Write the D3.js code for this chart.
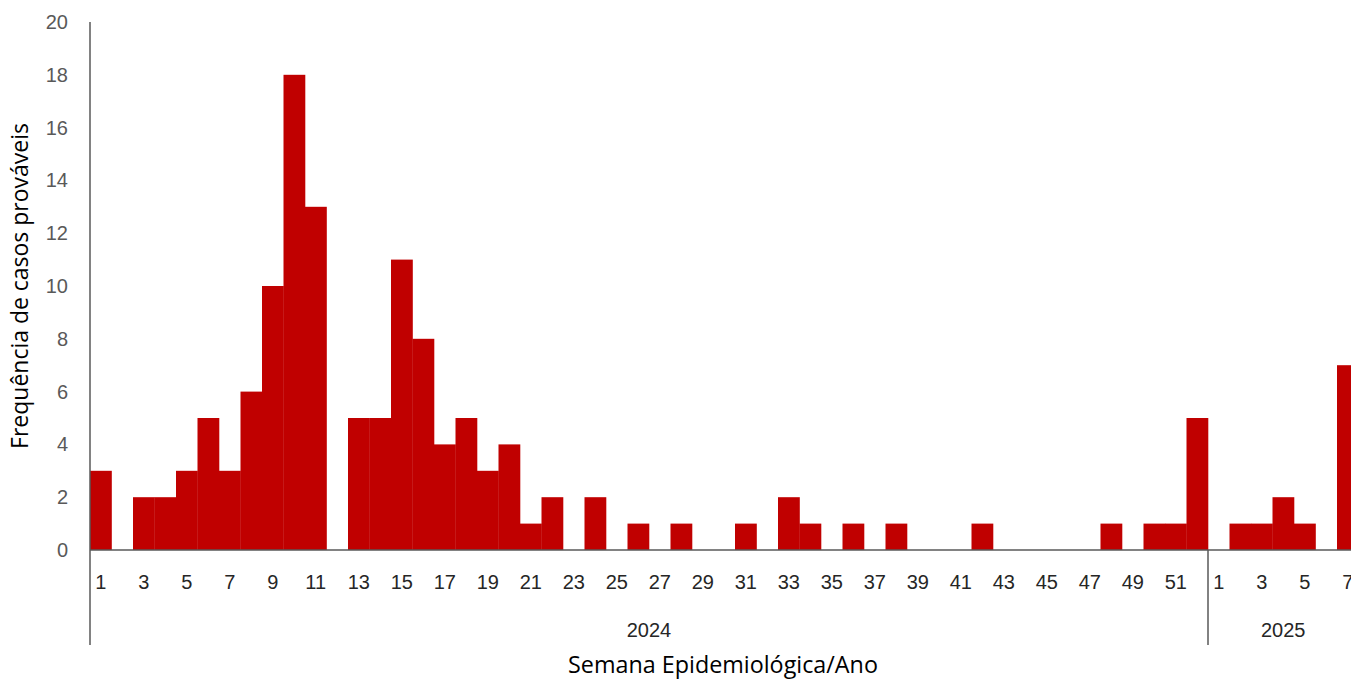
<!DOCTYPE html>
<html><head><meta charset="utf-8">
<script src="https://cdn.jsdelivr.net/npm/d3@7"></script>
<style>body{margin:0;background:#fff;overflow:hidden}svg{display:block}</style>
</head><body><svg id="c" width="1351" height="680"></svg>
<script>
const years = ["2024", "2025"];
const weeks2024 = d3.range(1, 53);
const weeks2025 = d3.range(1, 8);
const values2024 = [3,0,2,2,3,5,3,6,10,18,13,0,5,5,11,8,4,5,3,4,1,2,0,2,0,1,0,1,0,0,1,0,2,1,0,1,0,1,0,0,0,1,0,0,0,0,0,1,0,1,1,5];
const values2025 = [0,1,1,2,1,0,7];
const yTicks = [0,2,4,6,8,10,12,14,16,18,20];
const yTitle = "Frequência de casos prováveis";
const xTitle = "Semana Epidemiológica/Ano";

const data = [];
weeks2024.forEach((w,i)=>data.push({year:"2024", week:w, value:values2024[i], key:"2024-"+w}));
weeks2025.forEach((w,i)=>data.push({year:"2025", week:w, value:values2025[i], key:"2025-"+w}));

const svg = d3.select("#c");
const left = 90, bw = 21.5;
const x = d3.scaleBand().domain(data.map(d=>d.key)).range([left, left + data.length*bw]).padding(0);
const y = d3.scaleLinear().domain([0,20]).range([550,22]);
const font = "'Liberation Sans', Arial, sans-serif";
const tfont = "'Open Sans', 'Noto Sans', sans-serif";

// bars
svg.append("g").selectAll("rect").data(data).join("rect")
  .attr("x", d=>x(d.key)).attr("width", x.bandwidth()+0.3)
  .attr("y", d=>y(d.value)).attr("height", d=>y(0)-y(d.value))
  .attr("fill", "#C00000");

// y axis
const ya = svg.append("g").attr("transform", `translate(${left},0)`)
  .call(d3.axisLeft(y).tickValues(yTicks).tickSize(0).tickPadding(22));
ya.select(".domain").remove();
ya.selectAll("text").attr("font-family", font).attr("font-size", 20).attr("fill", "#595959");

// axis lines
svg.append("line").attr("x1", left).attr("x2", left).attr("y1", y(20)).attr("y2", 645).attr("stroke", "#595959").attr("stroke-width", 1.5);
svg.append("line").attr("x1", left).attr("x2", 1351).attr("y1", y(0)).attr("y2", y(0)).attr("stroke", "#595959").attr("stroke-width", 1.5);
const x2025 = x("2025-1");
svg.append("line").attr("x1", x2025).attr("x2", x2025).attr("y1", y(0)).attr("y2", 645).attr("stroke", "#595959").attr("stroke-width", 1.5);

// x tick labels
svg.append("g").selectAll("text").data(data.filter(d=>d.week%2===1)).join("text")
  .attr("x", d=>x(d.key)+x.bandwidth()/2).attr("y", 589)
  .attr("text-anchor","middle").attr("font-family", font).attr("font-size", 20).attr("fill", "#262626")
  .text(d=>d.week);

// year labels
years.forEach(yr=>{
  const ks = data.filter(d=>d.year===yr);
  const x0 = x(ks[0].key), x1 = x(ks[ks.length-1].key)+x.bandwidth();
  svg.append("text").attr("x", (x0+x1)/2).attr("y", 637).attr("text-anchor","middle")
    .attr("font-family", font).attr("font-size", 20).attr("fill", "#262626").text(yr);
});

// titles
function fit(t, target){
  const len = t.node().getComputedTextLength();
  const fs = parseFloat(t.attr("font-size"));
  t.attr("font-size", fs*target/len);
}
const xt = svg.append("text").attr("x", 723).attr("y", 673).attr("text-anchor","middle")
  .attr("font-family", tfont).attr("font-size", 21).attr("fill", "#000").text(xTitle);
fit(xt, 310);
const yt = svg.append("text").attr("transform", "translate(28,286) rotate(-90)").attr("text-anchor","middle")
  .attr("font-family", tfont).attr("font-size", 21).attr("fill", "#000").text(yTitle);
fit(yt, 326);
</script></body></html>
